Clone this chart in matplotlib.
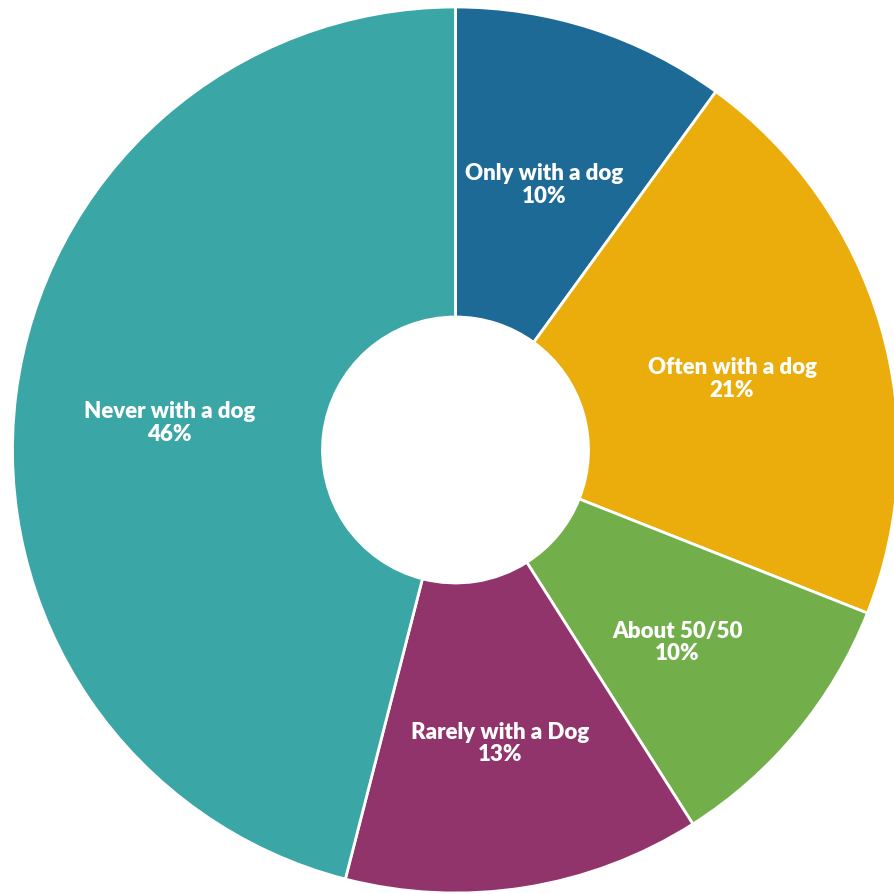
import numpy as np
import matplotlib.pyplot as plt

# Datos del gráfico (sentido horario desde arriba)
categories = ['Only with a dog', 'Often with a dog', 'About 50/50',
              'Rarely with a Dog', 'Never with a dog']
values = [10, 21, 10, 13, 46]
colors = ['#1e6a96', '#eaad0c', '#72ae4a', '#92346c', '#3aa6a5']

R = 443
hole = 133
cx, cy = 455.5, 451  # centro en píxeles (desde arriba a la izquierda)

fig = plt.figure(figsize=(8.94, 8.95), dpi=100)
ax = fig.add_axes([0, 0, 1, 1])

wedges, _ = ax.pie(values, colors=colors, radius=R, startangle=90,
                   counterclock=False, center=(0, 0),
                   wedgeprops=dict(width=R - hole, edgecolor='white', linewidth=2))

# Etiquetas en la mitad del anillo (un poco desplazadas hacia abajo)
r_lab = (R + hole) / 2
for w, cat, v in zip(wedges, categories, values):
    ang = np.deg2rad((w.theta1 + w.theta2) / 2)
    x, y = r_lab * np.cos(ang), r_lab * np.sin(ang) - 8
    ax.text(x, y, f'{cat}\n{v}%', ha='center', va='center', color='white',
            fontsize=16, fontweight='heavy', family='Lato', linespacing=1.1)

ax.set_xlim(-cx, 894 - cx)
ax.set_ylim(-(895 - cy), cy)
ax.set_aspect('equal')
ax.axis('off')

plt.savefig('out.png', dpi=100)
